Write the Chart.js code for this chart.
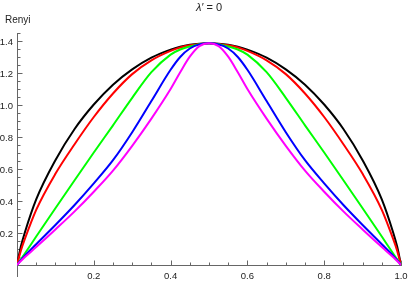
<!DOCTYPE html>
<html>
<head>
<meta charset="utf-8">
<script src="https://cdn.jsdelivr.net/npm/chart.js@4/dist/chart.umd.min.js"></script>
<style>
  html, body { margin: 0; padding: 0; background: #fff; }
  canvas { display: block; }
</style>
</head>
<body>
<canvas id="renyiChart" width="409" height="281"></canvas>
<script>
// Valores de x (fração) e curvas
const xValues = [0, 0.01, 0.02, 0.05, 0.1, 0.15, 0.2, 0.25, 0.3, 0.35, 0.4, 0.425, 0.45, 0.475, 0.5,
    0.525, 0.55, 0.575, 0.6, 0.65, 0.7, 0.75, 0.8, 0.85, 0.9, 0.95, 0.98, 0.99, 1];

const blackCurve = [0, 0.115, 0.2, 0.41, 0.655, 0.85, 1.003, 1.127, 1.223, 1.296, 1.346, 1.364, 1.376, 1.383, 1.386,
    1.383, 1.376, 1.364, 1.346, 1.296, 1.223, 1.127, 1.003, 0.85, 0.655, 0.41, 0.2, 0.115, 0];
const redCurve = [0, 0.09, 0.16, 0.345, 0.57, 0.755, 0.925, 1.072, 1.193, 1.279, 1.338, 1.359, 1.373, 1.382, 1.386,
    1.382, 1.373, 1.359, 1.338, 1.279, 1.193, 1.072, 0.925, 0.755, 0.57, 0.345, 0.16, 0.09, 0];
const greenCurve = [0, 0.035, 0.07, 0.178, 0.355, 0.53, 0.703, 0.873, 1.045, 1.205, 1.315, 1.347, 1.366, 1.38, 1.386,
    1.38, 1.366, 1.347, 1.315, 1.205, 1.045, 0.873, 0.703, 0.53, 0.355, 0.178, 0.07, 0.035, 0];
const blueCurve = [0, 0.03, 0.057, 0.13, 0.25, 0.375, 0.51, 0.655, 0.83, 1.025, 1.22, 1.3, 1.353, 1.379, 1.386,
    1.379, 1.353, 1.3, 1.22, 1.025, 0.83, 0.655, 0.51, 0.375, 0.25, 0.13, 0.057, 0.03, 0];
const magentaCurve = [0, 0.025, 0.048, 0.112, 0.222, 0.335, 0.458, 0.59, 0.745, 0.915, 1.1, 1.205, 1.302, 1.368, 1.386,
    1.368, 1.302, 1.205, 1.1, 0.915, 0.745, 0.59, 0.458, 0.335, 0.222, 0.112, 0.048, 0.025, 0];

// Rótulos dos eixos
const xTickLabels = ['0.2', '0.4', '0.6', '0.8', '1.0'];
const yTickLabels = ['0.2', '0.4', '0.6', '0.8', '1.0', '1.2', '1.4'];

function toPoints(values) {
    return values.map((v, i) => ({ x: xValues[i], y: v }));
}

const labelFont = '9.5px "Liberation Sans", Arial, sans-serif';
const axisColor = '#666';
const textColor = '#222';

// Plugin que desenha os eixos no estilo do Mathematica
const axesPlugin = {
    id: 'mathAxes',
    beforeDatasetsDraw(chart) {
        const ctx = chart.ctx;
        const xs = chart.scales.x;
        const ys = chart.scales.y;
        const x0 = Math.round(xs.getPixelForValue(0)) + 0.5;
        const y0 = Math.round(ys.getPixelForValue(0)) + 0.5;
        ctx.save();
        ctx.strokeStyle = axisColor;
        ctx.lineWidth = 1;
        ctx.beginPath();
        // eixo x
        ctx.moveTo(xs.getPixelForValue(0), y0);
        ctx.lineTo(xs.getPixelForValue(1) + 1, y0);
        // eixo y
        ctx.moveTo(x0, ys.getPixelForValue(ys.min));
        ctx.lineTo(x0, ys.getPixelForValue(ys.max));
        ctx.stroke();

        // marcas do eixo x
        ctx.beginPath();
        for (let i = 1; i <= 20; i++) {
            const px = Math.round(xs.getPixelForValue(i / 20)) + 0.5;
            const len = (i % 4 === 0) ? 5 : 3;
            ctx.moveTo(px, y0);
            ctx.lineTo(px, y0 - len);
        }
        // marcas do eixo y
        for (let i = 1; i <= 29; i++) {
            const py = Math.round(ys.getPixelForValue(i / 20)) + 0.5;
            const len = (i % 4 === 0) ? 5 : 3;
            ctx.moveTo(x0, py);
            ctx.lineTo(x0 + len, py);
        }
        ctx.stroke();

        // rótulos
        ctx.fillStyle = textColor;
        ctx.font = labelFont;
        ctx.textAlign = 'center';
        ctx.textBaseline = 'alphabetic';
        xTickLabels.forEach(t => {
            ctx.fillText(t, xs.getPixelForValue(parseFloat(t)), y0 + 13);
        });
        ctx.textAlign = 'right';
        yTickLabels.forEach(t => {
            ctx.fillText(t, x0 - 4.5, ys.getPixelForValue(parseFloat(t)) + 3.5);
        });

        // nome do eixo y
        ctx.textAlign = 'left';
        ctx.font = '10px "Liberation Sans", Arial, sans-serif';
        ctx.fillText('Renyi', 5, 22.5);

        // título com lambda em itálico
        const italicPart = 'λ′';
        const plainPart = ' = 0';
        const italicFont = 'italic 11px "Liberation Sans", Arial, sans-serif';
        const plainFont = '11px "Liberation Sans", Arial, sans-serif';
        ctx.font = italicFont;
        const w1 = ctx.measureText(italicPart).width;
        ctx.font = plainFont;
        const w2 = ctx.measureText(plainPart).width;
        const cx = (chart.chartArea.left + chart.chartArea.right) / 2;
        let start = cx - (w1 + w2) / 2;
        ctx.font = italicFont;
        ctx.fillText(italicPart, start, 10.5);
        ctx.font = plainFont;
        ctx.fillText(plainPart, start + w1, 10.5);
        ctx.restore();
    }
};

const ctx = document.getElementById('renyiChart').getContext('2d');

const series = [
    { data: magentaCurve, color: '#ff00ff' },
    { data: blueCurve, color: '#0000ff' },
    { data: greenCurve, color: '#00ff00' },
    { data: redCurve, color: '#ff0000' },
    { data: blackCurve, color: '#000000' }
];

const chart = new Chart(ctx, {
    type: 'line',
    data: {
        datasets: series.map(s => ({
            data: toPoints(s.data),
            borderColor: s.color,
            borderWidth: 2,
            pointRadius: 0,
            fill: false,
            cubicInterpolationMode: 'monotone'
        }))
    },
    options: {
        responsive: false,
        animation: false,
        devicePixelRatio: 1,
        layout: {
            padding: { left: 17, right: 8, top: 33, bottom: 4 }
        },
        plugins: {
            legend: { display: false },
            tooltip: { enabled: false },
            title: { display: false }
        },
        scales: {
            x: { type: 'linear', display: false, min: 0, max: 1 },
            y: { type: 'linear', display: false, min: -0.075, max: 1.45 }
        }
    },
    plugins: [axesPlugin]
});
</script>
</body>
</html>
